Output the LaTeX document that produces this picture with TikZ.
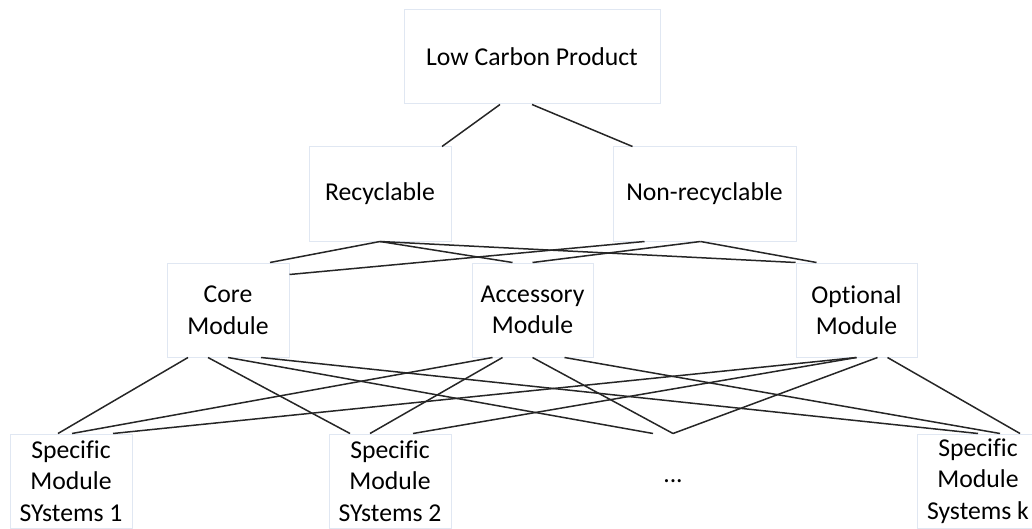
\documentclass[tikz,border=0pt]{standalone}
\usepackage{fontspec}
\setmainfont[Ligatures=NoCommon]{Carlito}
\usetikzlibrary{positioning, calc}
\definecolor{boxline}{RGB}{224,231,242}

\begin{document}
\begin{tikzpicture}[
  x=0.5pt, y=-0.5pt,
  box/.style={rectangle, draw=boxline, line width=0.5pt, fill=white, minimum height=47pt, inner sep=0pt, font=\fontsize{12.85}{15.8}\selectfont},
  link/.style={line width=0.75pt, black!85},
  every node/.style={align=center}
]
  \useasboundingbox (0,0) rectangle (1032,529);

  % Product
  \node[box, minimum width=128pt] (lcp) at (532,57) {Low Carbon Product};

  % Recyclability
  \node[box, minimum width=71pt] (rec) at (380,194) {Recyclable};
  \node[box, minimum width=91.5pt] (nonrec) at (704.5,194) {Non-recyclable};

  \draw[link] ($(lcp.south)+(-32,0)$) -- ($(rec.north)+(62,0)$);
  \draw[link] (lcp.south) -- ($(nonrec.north)+(-72,0)$);

  % Modules
  \node[box, minimum width=61pt] (core) at (228,310) {Core\\Module};
  \node[box, minimum width=60.5pt] (acc) at (532.5,310) {Accessory\\Module};
  \node[box, minimum width=60.5pt] (opt) at (856.5,310) {Optional\\Module};

  \draw[link] (rec.south) -- ($(core.north)+(42,0)$);
  \draw[link] (rec.south) -- ($(acc.north)+(-20,0)$);
  \draw[link] (rec.south) -- (opt.north west);
  \draw[link] ($(nonrec.south)+(-60,0)$) -- ($(core.north east)+(0,12)$);
  \draw[link] ($(nonrec.south)+(-4,0)$) -- (acc.north);
  \draw[link] ($(nonrec.south)+(-4,0)$) -- ($(opt.north)+(-40,0)$);

  % Specific module systems
  \node[box, minimum width=61pt] (sys1) at (71,481) {Specific\\Module\\SYstems 1};
  \node[box, minimum width=61pt] (sys2) at (390,481) {Specific\\Module\\SYstems 2};
  \node[box, draw=none, fill=none, minimum width=61pt] (sysdots) at (673,481) {...};
  \node[box, minimum width=61pt] (sysk) at (978,481) {Specific\\Module\\Systems k};

  \draw[link] ($(core.south)+(-40,0)$) -- ($(sys1.north)+(-13,0)$);
  \draw[link] ($(core.south)+(-20,0)$) -- ($(sys2.north)+(-40,0)$);
  \draw[link] (core.south) -- ($(sysdots.north)+(-20,0)$);
  \draw[link] ($(core.south)+(33,0)$) -- (sysk.north);

  \draw[link] ($(acc.south)+(-40,0)$) -- ($(sys1.north)+(1,0)$);
  \draw[link] ($(acc.south)+(-30,0)$) -- ($(sys2.north)+(-20,0)$);
  \draw[link] (acc.south) -- (sysdots.north);
  \draw[link] ($(acc.south)+(32,0)$) -- ($(sysk.north)+(22,0)$);

  \draw[link] (opt.south) -- ($(sys1.north)+(42,0)$);
  \draw[link] (opt.south) -- ($(sys2.north)+(23,0)$);
  \draw[link] ($(opt.south)+(21,0)$) -- (sysdots.north);
  \draw[link] ($(opt.south)+(31,0)$) -- ($(sysk.north)+(42,0)$);

\end{tikzpicture}
\end{document}
